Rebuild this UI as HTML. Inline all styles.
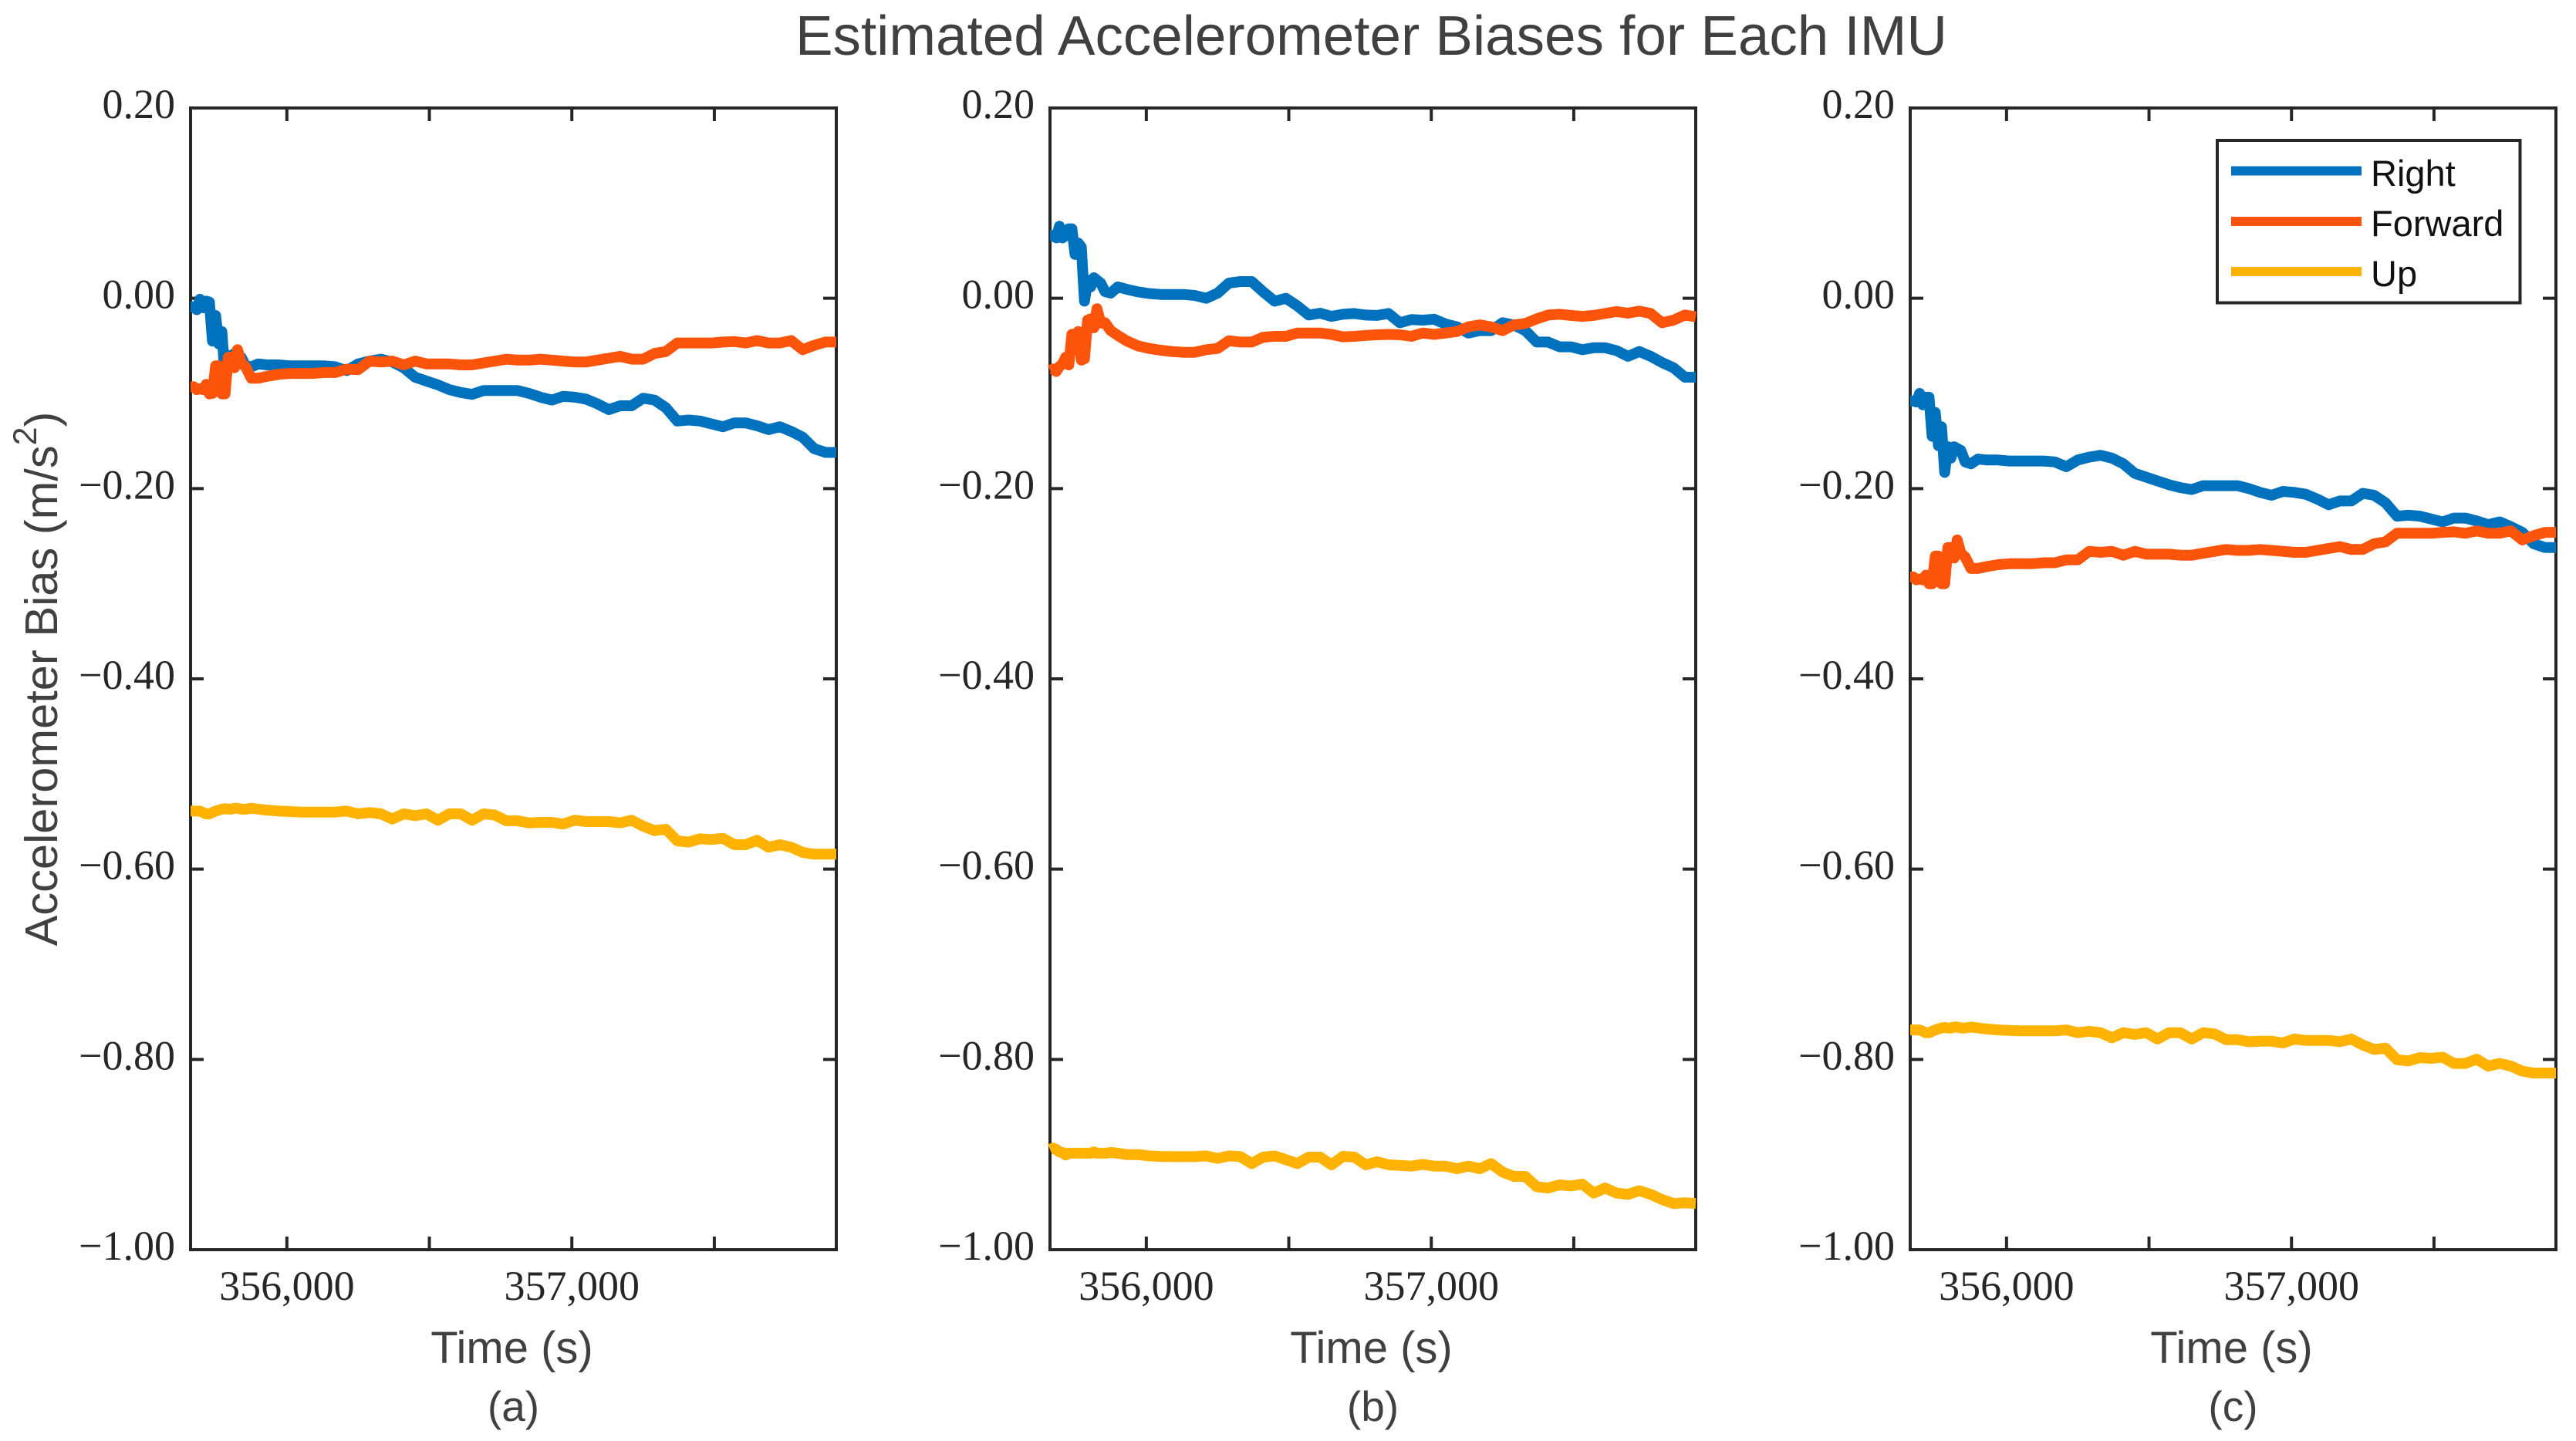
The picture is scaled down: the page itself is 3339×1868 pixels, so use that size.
<!DOCTYPE html>
<html lang="en">
<head>
<meta charset="utf-8">
<title>Estimated Accelerometer Biases for Each IMU</title>
<style>
html,body{margin:0;padding:0;background:#fff;}
svg{display:block;}
.sans{font-family:"Liberation Sans",Arial,sans-serif;fill:#404040;}
.serif{font-family:"Liberation Serif","Times New Roman",serif;fill:#262626;}
</style>
</head>
<body>
<svg id="chart" xmlns="http://www.w3.org/2000/svg" width="3339" height="1868" viewBox="0 0 3339 1868">
<rect x="0" y="0" width="3339" height="1868" fill="#fff"/>
<text class="sans" x="1031" y="71" font-size="72.8">Estimated Accelerometer Biases for Each IMU</text>
<text class="sans" x="74" y="880" font-size="59.6" text-anchor="middle" transform="rotate(-90 74 880)">Accelerometer Bias (m/s<tspan dy="-27" font-size="43">2</tspan><tspan dy="27">)</tspan></text>
<g id="panels"></g>
<g>
<rect x="2874" y="182" width="392.5" height="210.5" fill="#fff" stroke="#262626" stroke-width="4"/>
<line x1="2892" x2="3061" y1="221.5" y2="221.5" stroke="#0072BD" stroke-width="12"/>
<line x1="2892" x2="3061" y1="287" y2="287" stroke="#FC540A" stroke-width="12"/>
<line x1="2892" x2="3061" y1="352" y2="352" stroke="#FFB300" stroke-width="12"/>
<text x="3073" y="241" font-size="47" fill="#111" font-family="'Liberation Sans',Arial,sans-serif">Right</text>
<text x="3073" y="306" font-size="47" fill="#111" font-family="'Liberation Sans',Arial,sans-serif">Forward</text>
<text x="3073" y="371" font-size="47" fill="#111" font-family="'Liberation Sans',Arial,sans-serif">Up</text>
</g>
</svg>
<script>
const timeSeconds = [
355662,355673,355684,355695,355706,355717,355728,355739,355750,355761,355772,355783,355794,355805,355816,355827,355840,355855,355875,355900,355930,355970,
356010,356050,356090,356130,356170,356210,356250,356290,356330,356370,
356410,356450,356490,356530,356570,356610,356650,356690,356730,356770,
356810,356850,356890,356930,356970,357010,357050,357090,357130,357170,
357210,357250,357290,357330,357370,357410,357450,357490,357530,357570,
357610,357650,357690,357730,357770,357810,357850,357890,357928];

const panelARight = [
-.009,-.009,-.012,-.001,-.010,-.003,-.004,-.045,-.018,-.048,-.035,-.083,-.060,-.072,-.058,-.060,-.062,-.071,-.072,-.069,-.070,-.070,
-.071,-.071,-.071,-.071,-.072,-.076,-.069,-.066,-.064,-.067,
-.073,-.083,-.087,-.091,-.096,-.099,-.101,-.097,-.097,-.097,
-.097,-.100,-.104,-.107,-.103,-.104,-.106,-.111,-.117,-.113,
-.113,-.105,-.107,-.115,-.129,-.128,-.129,-.132,-.135,-.131,
-.131,-.134,-.138,-.135,-.140,-.146,-.158,-.162,-.162];
const panelAForward = [
-.093,-.093,-.096,-.095,-.096,-.0905,-.1005,-.100,-.071,-.071,-.1005,-.1005,-.062,-.062,-.073,-.054,-.068,-.072,-.084,-.084,-.082,-.080,
-.079,-.079,-.079,-.078,-.078,-.0745,-.075,-.066,-.067,-.066,
-.070,-.066,-.069,-.069,-.069,-.070,-.070,-.068,-.066,-.064,
-.065,-.065,-.064,-.065,-.066,-.067,-.067,-.065,-.063,-.061,
-.064,-.064,-.058,-.056,-.047,-.047,-.047,-.047,-.046,-.0455,
-.047,-.0445,-.047,-.047,-.0445,-.054,-.0495,-.046,-.046];
const panelAUp = [
-.539,-.539,-.539,-.539,-.5405,-.542,-.542,-.5405,-.539,-.538,-.537,-.5365,-.537,-.537,-.536,-.536,-.537,-.537,-.536,-.537,-.538,-.539,
-.5395,-.54,-.54,-.54,-.54,-.539,-.5419,-.5405,-.5419,-.5473,
-.5419,-.5438,-.5419,-.5486,-.5419,-.5419,-.5486,-.5419,-.5432,-.5492,
-.5492,-.5514,-.5508,-.5508,-.5527,-.5486,-.55,-.55,-.55,-.5514,
-.5486,-.5549,-.5595,-.5581,-.5703,-.5716,-.5681,-.5689,-.5676,-.5743,
-.5743,-.5697,-.577,-.5743,-.577,-.5824,-.5843,-.5843,-.5843];

const panelBRight = [
.066,.066,.0635,.0757,.0635,.066,.073,.073,.046,.058,.054,-.003,.019,.012,.0216,.019,.016,.007,.0054,.012,.0095,.0068,
.005,.004,.004,.004,.003,0,.0054,.016,.0176,.0176,
.0068,-.003,0,-.008,-.0176,-.0157,-.019,-.0168,-.016,-.0176,
-.018,-.016,-.0257,-.0224,-.023,-.022,-.027,-.03,-.0365,-.034,
-.034,-.0257,-.028,-.034,-.046,-.046,-.051,-.051,-.054,-.052,
-.052,-.055,-.061,-.056,-.061,-.0676,-.073,-.083,-.083];
const panelBForward = [
-.0757,-.0743,-.077,-.0716,-.069,-.062,-.07,-.038,-.038,-.035,-.065,-.0635,-.023,-.0216,-.031,-.011,-.026,-.0257,-.034,-.039,-.0446,-.05,
-.0527,-.0546,-.056,-.0568,-.0568,-.054,-.0527,-.0446,-.046,-.046,
-.041,-.04,-.04,-.0365,-.0365,-.0365,-.038,-.0405,-.04,-.039,
-.0384,-.038,-.0384,-.04,-.0365,-.038,-.0365,-.035,-.03,-.028,
-.03,-.034,-.028,-.0265,-.0216,-.0176,-.0168,-.018,-.019,-.018,
-.016,-.014,-.0157,-.0135,-.016,-.0257,-.023,-.0176,-.0195];
const panelBUp = [
-.8946,-.8932,-.8946,-.8973,-.8978,-.9005,-.8986,-.8986,-.8986,-.8986,-.8986,-.8986,-.8986,-.8986,-.8973,-.8986,-.8986,-.8986,-.8978,-.8986,-.90,-.90,
-.9014,-.902,-.9022,-.9022,-.9022,-.9014,-.9041,-.9014,-.9022,-.9095,
-.9027,-.9014,-.9054,-.9095,-.9027,-.9027,-.9108,-.9019,-.9027,-.9108,
-.9076,-.9108,-.9114,-.9122,-.9103,-.9122,-.9122,-.9149,-.9122,-.9149,
-.9095,-.9184,-.923,-.923,-.9338,-.9351,-.9319,-.933,-.9311,-.9405,
-.9351,-.9405,-.9419,-.938,-.9419,-.9473,-.9514,-.9508,-.9514];

const panelCRight = [
-.108,-.108,-.109,-.100,-.112,-.104,-.104,-.145,-.120,-.155,-.135,-.183,-.156,-.168,-.156,-.158,-.160,-.172,-.174,-.169,-.170,-.170,
-.171,-.171,-.171,-.171,-.172,-.177,-.170,-.167,-.165,-.168,
-.174,-.184,-.188,-.192,-.196,-.199,-.201,-.197,-.197,-.197,
-.197,-.200,-.204,-.207,-.203,-.204,-.206,-.211,-.217,-.213,
-.213,-.205,-.207,-.215,-.229,-.228,-.229,-.232,-.235,-.231,
-.231,-.234,-.238,-.235,-.240,-.246,-.258,-.262,-.262];
const panelCForward = [
-.293,-.293,-.296,-.295,-.296,-.291,-.300,-.300,-.271,-.271,-.300,-.300,-.262,-.262,-.273,-.254,-.268,-.272,-.284,-.284,-.282,-.280,
-.279,-.279,-.279,-.278,-.278,-.275,-.275,-.266,-.267,-.266,
-.270,-.266,-.269,-.269,-.269,-.270,-.270,-.268,-.266,-.264,
-.265,-.265,-.264,-.265,-.266,-.267,-.267,-.265,-.263,-.261,
-.264,-.264,-.258,-.256,-.247,-.247,-.247,-.247,-.246,-.2455,
-.247,-.2445,-.247,-.247,-.2445,-.254,-.2495,-.246,-.246];
const panelCUp = [
-.769,-.769,-.769,-.769,-.7705,-.772,-.772,-.7705,-.769,-.768,-.767,-.7665,-.767,-.767,-.766,-.766,-.767,-.767,-.766,-.767,-.768,-.769,
-.7695,-.77,-.77,-.77,-.77,-.769,-.7719,-.7705,-.7719,-.7773,
-.7719,-.7738,-.7719,-.7786,-.7719,-.7719,-.7786,-.7719,-.7732,-.7792,
-.7792,-.7814,-.7808,-.7808,-.7827,-.7786,-.78,-.78,-.78,-.7814,
-.7786,-.7849,-.7895,-.7881,-.8003,-.8016,-.7981,-.7989,-.7976,-.8043,
-.8043,-.7997,-.807,-.8043,-.807,-.8124,-.8143,-.8143,-.8143];

const yTickValues = [0.2, 0, -0.2, -0.4, -0.6, -0.8, -1];
const yTickLabels = ['0.20', '0.00', '\u22120.20', '\u22120.40', '\u22120.60', '\u22120.80', '\u22121.00'];
const xTickValues = [356000, 356500, 357000, 357500];
const xTickLabels = ['356,000', '', '357,000', ''];
const panelNames = ['a', 'b', 'c'];
const panelLefts = [247, 1361, 2476];
const seriesNames = ['right', 'forward', 'up'];
const seriesColors = ['#0072BD', '#FC540A', '#FFB300'];
const panelSeries = [
  [panelARight, panelAForward, panelAUp],
  [panelBRight, panelBForward, panelBUp],
  [panelCRight, panelCForward, panelCUp]
];

const NS = 'http://www.w3.org/2000/svg';
const xMin = 355662, xMax = 357928, yMin = -1, yMax = 0.2;
const plotWidth = 837, plotTop = 140, plotBottom = 1620, tickLength = 17;
const axisColor = '#262626';

function xScale(t, left) {
  return left + (t - xMin) / (xMax - xMin) * plotWidth;
}
function yScale(v) {
  return plotBottom - (v - yMin) / (yMax - yMin) * (plotBottom - plotTop);
}
function makeSvg(tag, attrs, parent) {
  const el = document.createElementNS(NS, tag);
  for (const key in attrs) el.setAttribute(key, attrs[key]);
  parent.appendChild(el);
  return el;
}

const panelsRoot = document.getElementById('panels');

panelNames.forEach(function (name, p) {
  const left = panelLefts[p];
  const right = left + plotWidth;
  const g = makeSvg('g', {}, panelsRoot);
  
  

  const frame = makeSvg('rect', {x: left, y: plotTop, width: plotWidth, height: plotBottom - plotTop, fill: '#fff', stroke: axisColor, 'stroke-width': 4}, g);
  
  

  yTickValues.forEach(function (v, i) {
    const y = yScale(v);
    const tl = makeSvg('line', {x1: left, x2: left + tickLength, y1: y, y2: y, stroke: axisColor, 'stroke-width': 4}, g);
    
    
    const tr = makeSvg('line', {x1: right, x2: right - tickLength, y1: y, y2: y, stroke: axisColor, 'stroke-width': 4}, g);
    
    
    const lab = makeSvg('text', {x: left - 20, y: y + 13, 'font-size': 54, 'text-anchor': 'end', 'class': 'serif'}, g);
    
    
    lab.textContent = yTickLabels[i];
  });

  xTickValues.forEach(function (t, i) {
    const x = xScale(t, left);
    const tt = makeSvg('line', {x1: x, x2: x, y1: plotTop, y2: plotTop + tickLength, stroke: axisColor, 'stroke-width': 4}, g);
    
    
    const tb = makeSvg('line', {x1: x, x2: x, y1: plotBottom, y2: plotBottom - tickLength, stroke: axisColor, 'stroke-width': 4}, g);
    
    
    if (xTickLabels[i]) {
      const lab = makeSvg('text', {x: x, y: 1685, 'font-size': 54, 'text-anchor': 'middle', 'class': 'serif'}, g);
      
      
      lab.textContent = xTickLabels[i];
    }
  });

  panelSeries[p].forEach(function (values, s) {
    const pts = values.map(function (v, i) {
      return xScale(timeSeconds[i], left).toFixed(1) + ',' + yScale(v).toFixed(1);
    }).join(' ');
    const line = makeSvg('polyline', {points: pts, fill: 'none', stroke: seriesColors[s], 'stroke-width': 14, 'stroke-linejoin': 'round', 'stroke-linecap': 'butt'}, g);
    
    
  });

  const xTitle = makeSvg('text', {x: left + plotWidth / 2 - 2, y: 1767, 'font-size': 58, 'text-anchor': 'middle', 'class': 'sans'}, g);
  
  
  xTitle.textContent = 'Time (s)';

  const cap = makeSvg('text', {x: left + plotWidth / 2, y: 1842, 'font-size': 55, 'text-anchor': 'middle', 'class': 'sans'}, g);
  
  
  cap.textContent = '(' + name + ')';
});
</script>
</body>
</html>
